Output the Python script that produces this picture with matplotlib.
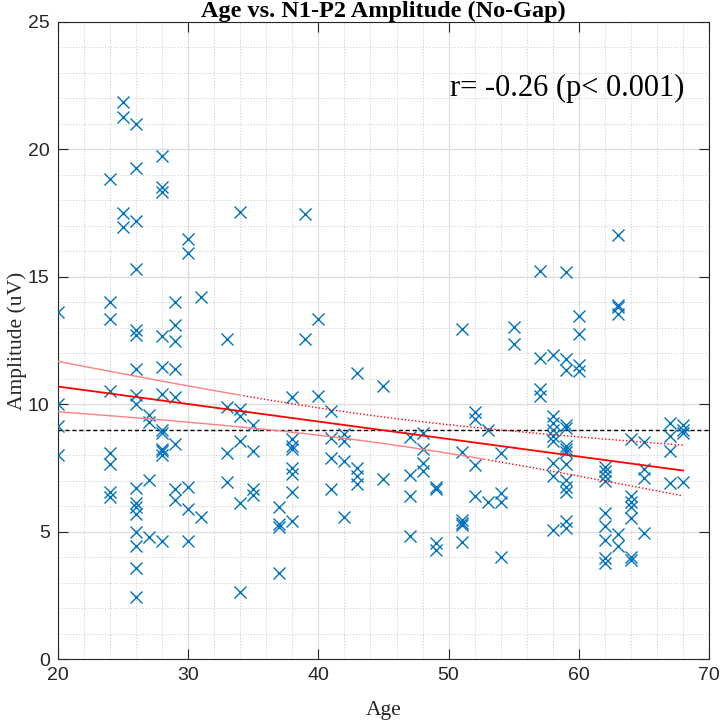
import numpy as np
import matplotlib
matplotlib.use("Agg")
import matplotlib.pyplot as plt
from matplotlib.ticker import MultipleLocator

# Ages (years) and N1-P2 amplitudes (uV), grouped by age
age_groups = {
    20: [13.6, 10.0, 9.15, 8.0],
    24: [18.85, 14.0, 13.33, 10.53, 8.1, 7.66, 6.55, 6.35],
    25: [21.85, 21.27, 17.49, 16.97],
    26: [20.98, 19.27, 17.2, 15.31, 12.91, 12.7, 11.4, 10.35, 10.0,
         6.7, 6.14, 5.98, 5.71, 5.0, 4.45, 3.58, 2.45],
    27: [9.56, 9.32, 7.03, 4.8],
    28: [19.74, 18.54, 18.33, 12.68, 11.46, 10.41, 9.0, 8.88, 8.24, 8.16, 8.0, 4.63],
    29: [14.0, 13.09, 12.5, 11.39, 10.27, 8.43, 6.67, 6.24],
    30: [16.48, 15.92, 6.76, 5.89, 4.63],
    31: [14.19, 5.57],
    33: [12.56, 9.9, 8.1, 6.93],
    34: [17.54, 9.82, 9.55, 8.57, 6.11, 2.64],
    35: [9.18, 8.15, 6.68, 6.45],
    37: [5.98, 5.29, 5.19, 3.39],
    38: [10.3, 8.64, 8.36, 8.24, 7.5, 7.25, 6.54, 5.42],
    39: [17.45, 12.56],
    40: [13.36, 10.32],
    41: [9.73, 8.66, 7.9, 6.67],
    42: [8.82, 8.57, 7.78, 5.59],
    43: [11.24, 7.5, 7.2, 6.85],
    45: [10.72, 7.08],
    47: [8.7, 7.22, 6.4, 4.83],
    48: [8.86, 8.26, 7.7, 7.36],
    49: [6.77, 6.66, 4.54, 4.28],
    51: [12.94, 8.14, 5.46, 5.35, 5.26, 4.61],
    52: [9.71, 9.41, 7.6, 6.4],
    53: [8.99, 6.18],
    54: [8.08, 6.53, 6.18, 4.0],
    55: [13.02, 12.37],
    57: [15.21, 11.8, 10.59, 10.32],
    58: [11.94, 9.52, 9.28, 8.99, 8.77, 8.57, 7.71, 7.2, 5.06],
    59: [15.17, 11.77, 11.35, 9.18, 9.06, 8.34, 8.24, 8.14, 7.67, 7.03,
         6.77, 6.57, 5.42, 5.16],
    60: [13.47, 12.75, 11.54, 11.32],
    62: [7.55, 7.38, 7.18, 6.99, 5.74, 5.22, 4.67, 3.98, 3.76],
    63: [16.65, 13.9, 13.8, 13.54, 4.91, 4.45],
    64: [8.64, 6.4, 6.18, 5.98, 5.52, 4.02, 3.89],
    65: [8.5, 7.45, 7.09, 4.93],
    67: [9.28, 8.75, 8.16, 6.9],
    68: [9.18, 8.99, 8.88, 6.96],
}
ages = np.array([a for a, vals in age_groups.items() for _ in vals], dtype=float)
amps = np.array([v for vals in age_groups.values() for v in vals])

r_text = "r= -0.26 (p< 0.001)"
ref_level = 9.0  # dashed horizontal reference

# linear fit + 95% CI of the mean
n = len(ages)
slope, icpt = np.polyfit(ages, amps, 1)
xfit = np.linspace(ages.min(), ages.max(), 200)
yfit = icpt + slope * xfit
resid = amps - (icpt + slope * ages)
s = np.sqrt(np.sum(resid ** 2) / (n - 2))
sxx = np.sum((ages - ages.mean()) ** 2)
half = 1.97 * s * np.sqrt(1.0 / n + (xfit - ages.mean()) ** 2 / sxx)
upper = yfit + half
lower = yfit - half

blue = "#0072BD"
serif = ["Liberation Serif", "DejaVu Serif"]
sans = ["Liberation Sans", "DejaVu Sans"]

fig = plt.figure(figsize=(7.2, 7.22), dpi=100)
ax = fig.add_axes([58 / 720, 63 / 722, 651 / 720, 637 / 722])

ax.plot(ages, amps, "x", color=blue, ms=8, mew=1.0, zorder=3)
ax.plot(xfit, yfit, color="red", lw=1.3, zorder=4)

# confidence bounds: pale solid on the left, dotted on the right (as rendered in the original)
up_split = xfit < 34
lo_split = xfit < 53
ax.plot(xfit[up_split], upper[up_split], color="#ff8080", lw=1.0, zorder=4)
ax.plot(xfit[~up_split], upper[~up_split], color="red", lw=1.0, ls=(0, (1, 1.5)), zorder=4)
ax.plot(xfit[lo_split], lower[lo_split], color="#ff8080", lw=1.0, zorder=4)
ax.plot(xfit[~lo_split], lower[~lo_split], color="red", lw=1.0, ls=(0, (1, 1.5)), zorder=4)

ax.axhline(ref_level, color="black", ls=(0, (3, 2)), lw=1.0, zorder=2)

ax.set_xlim(20, 70)
ax.set_ylim(0, 25)
ax.xaxis.set_major_locator(MultipleLocator(10))
ax.xaxis.set_minor_locator(MultipleLocator(2))
ax.yaxis.set_major_locator(MultipleLocator(5))
ax.yaxis.set_minor_locator(MultipleLocator(1))

ax.grid(True, which="major", color="#dcdcdc", lw=0.9)
ax.grid(True, which="minor", color="#c8c8c8", lw=0.7, ls=(0, (1, 2)))
ax.set_axisbelow(True)

ax.tick_params(which="major", direction="in", length=7, width=0.8, colors="#262626",
               labelsize=14, top=True, right=True, pad=6)
ax.tick_params(which="minor", length=0, top=True, right=True)
for lbl in ax.get_xticklabels() + ax.get_yticklabels():
    lbl.set_family(sans)
    lbl.set_color("#262626")
for sp in ax.spines.values():
    sp.set_color("#262626")
    sp.set_linewidth(0.8)

ax.set_title("Age vs. N1-P2 Amplitude (No-Gap)", family=serif, fontweight="bold",
             fontsize=17.5, pad=1)
ax.set_xlabel("Age", family=serif, fontsize=15.5, labelpad=12, color="#262626")
ax.set_ylabel("Amplitude (uV)", family=serif, fontsize=15.5, labelpad=1, color="#262626")
ax.text(0.782, 0.896, r_text, transform=ax.transAxes, family=serif, fontsize=22,
        ha="center", va="center")

fig.savefig("out.png", dpi=100)
